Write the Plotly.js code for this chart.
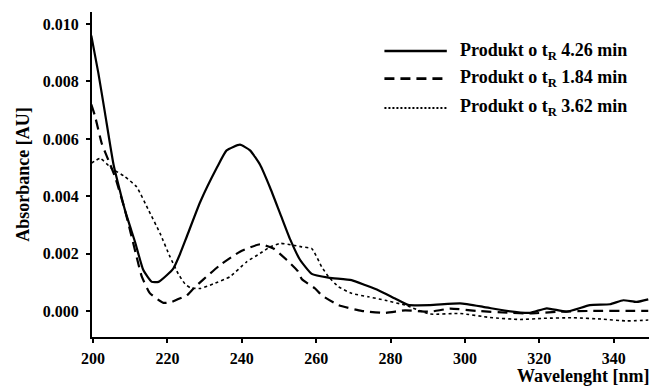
<!DOCTYPE html>
<html>
<head>
<meta charset="utf-8">
<script src="https://cdn.plot.ly/plotly-3.0.1.min.js"></script>
<style>html,body{margin:0;padding:0;background:#fff;}#chart{width:654px;height:388px;}</style>
</head>
<body>
<div id="chart"></div>
<script>
// Series names
const seriesNames = ["Produkt o t<sub>R</sub> 4.26 min", "Produkt o t<sub>R</sub> 1.84 min", "Produkt o t<sub>R</sub> 3.62 min"];

// Series 1: t_R 4.26 min (solid)
const wl1 = [199.5, 201.4, 203.2, 205.5, 208.6, 211.3, 213.5, 215.8, 217.6, 219.8, 221.6, 223.4, 225.2, 228.8, 233.3, 235.9, 239.5, 242.2, 244.9, 247.6, 250.3, 253.0, 255.6, 258.8, 263.3, 269.5, 273.1, 276.7, 281.2, 284.7, 290.6, 298.7, 304.9, 311.2, 317.5, 322.0, 327.3, 333.6, 339.0, 342.6, 346.2, 349.3];
const abs1 = [0.0096, 0.0083, 0.0069, 0.0051, 0.0035, 0.0024, 0.00143, 0.00102, 0.00102, 0.00125, 0.00149, 0.0020, 0.0026, 0.0038, 0.0050, 0.0056, 0.0058, 0.0056, 0.0051, 0.0043, 0.0034, 0.0025, 0.0018, 0.0013, 0.00117, 0.00108, 0.00091, 0.00073, 0.00044, 0.00022, 0.00021, 0.00027, 0.00015, 0.00001, -0.00006, 0.0001, -0.00002, 0.00021, 0.00024, 0.00038, 0.00032, 0.00041];

// Series 2: t_R 1.84 min (dashed)
const wl2 = [199.5, 200.5, 202.3, 204.1, 205.9, 208.6, 211.7, 213.1, 215.3, 218.9, 221.2, 222.9, 225.2, 227.0, 229.6, 234.1, 239.5, 244.9, 248.5, 252.1, 255.0, 256.1, 259.7, 261.5, 266.0, 272.2, 278.5, 283.9, 290.6, 296.0, 303.1, 312.1, 317.5, 325.5, 334.5, 343.5, 349.3];
const abs2 = [0.0072, 0.0068, 0.00585, 0.00526, 0.00468, 0.0035, 0.00189, 0.0012, 0.00062, 0.00029, 0.00032, 0.00042, 0.00055, 0.00079, 0.0011, 0.0016, 0.00207, 0.00233, 0.00218, 0.00178, 0.0014, 0.00112, 0.00079, 0.00055, 0.00021, 0.00001, -0.00006, 0.00003, -0.00002, 0.00009, 0.00001, -0.00006, -0.00008, -0.00002, 0.00001, 0.00001, 0.00001];

// Series 3: t_R 3.62 min (dotted)
const wl3 = [199.5, 201.9, 205.0, 208.6, 211.7, 214.9, 218.0, 220.7, 222.9, 224.7, 226.1, 228.8, 232.3, 236.8, 241.3, 244.9, 247.6, 250.3, 253.8, 256.1, 258.8, 261.5, 263.3, 266.0, 269.5, 274.0, 278.5, 283.9, 290.6, 298.7, 306.7, 314.8, 321.1, 329.1, 337.2, 343.5, 349.3];
const abs3 = [0.00515, 0.00532, 0.00497, 0.00468, 0.00433, 0.00352, 0.00271, 0.00189, 0.0013, 0.00095, 0.00082, 0.00079, 0.00095, 0.0012, 0.00172, 0.00201, 0.00224, 0.00236, 0.0023, 0.00224, 0.00218, 0.00154, 0.0012, 0.00085, 0.00062, 0.0005, 0.00038, 0.00021, -0.0001, -0.00008, -0.00022, -0.00029, -0.00025, -0.00023, -0.00028, -0.00034, -0.00031];

// Axis ticks
const yTicks = [0.000, 0.002, 0.004, 0.006, 0.008, 0.010];
const yTickText = ["0.000", "0.002", "0.004", "0.006", "0.008", "0.010"];
const xTicks = [200, 220, 240, 260, 280, 300, 320, 340];

const font = "Liberation Serif, Times New Roman, serif";
const dashes = ["solid", "10px,6px", "dot"];
const widths = [2.2, 2.2, 1.6];
const xs = [wl1, wl2, wl3];
const ys = [abs1, abs2, abs3];

const traces = xs.map((x, i) => ({
  x: x, y: ys[i], type: "scatter", mode: "lines", name: seriesNames[i],
  line: {color: "#000", width: widths[i], dash: dashes[i], shape: "spline", smoothing: 0.45},
  showlegend: false, hoverinfo: "skip"
}));

// custom legend (line samples + labels), placed in paper coords
const legY = [0.88, 0.795, 0.705];
const shapes = [];
const annotations = [];
legY.forEach((yy, i) => {
  shapes.push({type: "line", xref: "paper", yref: "paper", x0: 0.525, x1: 0.637, y0: yy, y1: yy,
    line: {color: "#000", width: widths[i] + 0.4, dash: i === 1 ? "10px,6px" : (i === 2 ? "2px,2px" : "solid")}});
  annotations.push({xref: "paper", yref: "paper", x: 0.657, y: yy, xanchor: "left", yanchor: "middle",
    text: "<b>" + seriesNames[i] + "</b>", showarrow: false, font: {family: font, size: 18, color: "#000"}});
});
annotations.push({xref: "paper", yref: "paper", x: 1.005, y: -0.12, xanchor: "right", yanchor: "middle",
  text: "<b>Wavelenght [nm]</b>", showarrow: false, font: {family: font, size: 18, color: "#000"}});

const layout = {
  width: 654, height: 388,
  margin: {l: 92, r: 5, t: 12, b: 51},
  paper_bgcolor: "#fff", plot_bgcolor: "#fff",
  font: {family: font, color: "#000"},
  showlegend: false,
  xaxis: {
    range: [199.7, 349.5], tickvals: xTicks, ticktext: xTicks.map(v => "<b>" + v + "</b>"),
    showgrid: false, zeroline: false, showline: true, linecolor: "#000", linewidth: 2,
    ticks: "outside", ticklen: 4, tickwidth: 2, tickcolor: "#000", ticklabelstandoff: 2,
    tickfont: {family: font, size: 16, color: "#000"}
  },
  yaxis: {
    range: [-0.0009, 0.01042], tickvals: yTicks, ticktext: yTickText.map(t => "<b>" + t + "</b>"),
    showgrid: false, zeroline: false, showline: true, linecolor: "#000", linewidth: 2,
    ticks: "outside", ticklen: 4, tickwidth: 2, tickcolor: "#000", ticklabelstandoff: 4,
    tickfont: {family: font, size: 16, color: "#000"},
    title: {text: "<b>Absorbance [AU]</b>", font: {family: font, size: 18, color: "#000"}, standoff: 8}
  },
  shapes: shapes,
  annotations: annotations
};

Plotly.newPlot("chart", traces, layout, {staticPlot: true, displayModeBar: false});
</script>
</body>
</html>
